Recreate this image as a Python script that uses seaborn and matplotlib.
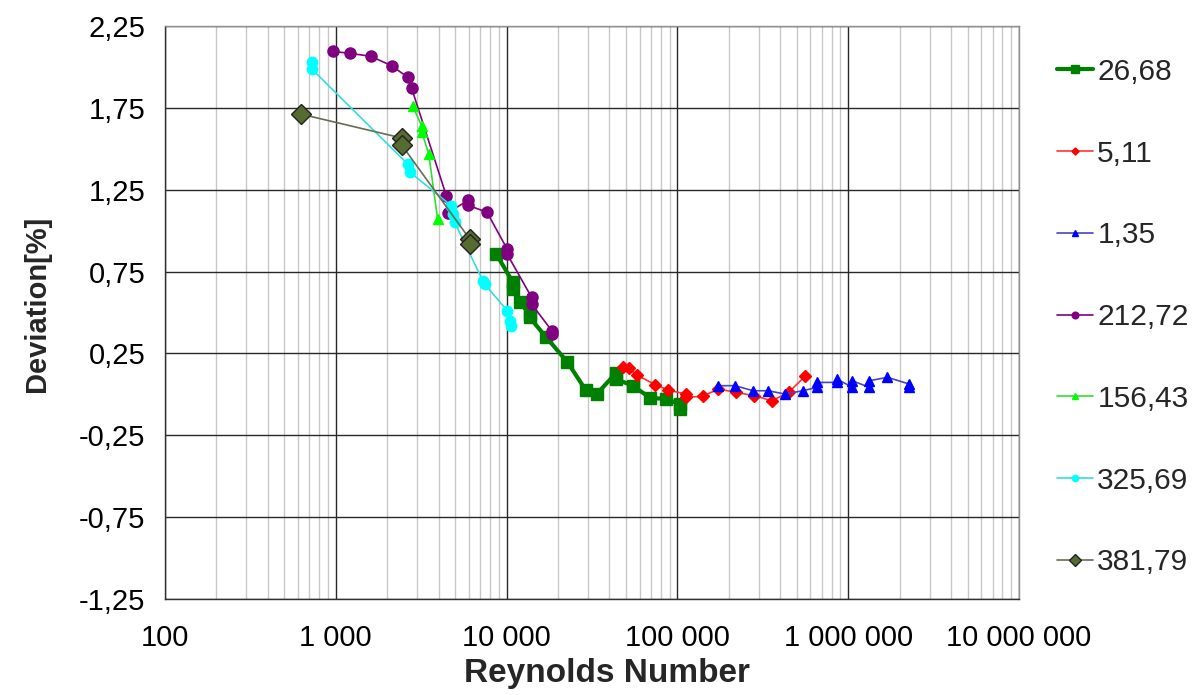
import matplotlib
matplotlib.use("Agg")
import matplotlib.pyplot as plt
import matplotlib.ticker as mticker
import seaborn as sns
import numpy as np

# ---------------- data ----------------
series_labels = ["26,68", "5,11", "1,35", "212,72", "156,43", "325,69", "381,79"]

re_2668 = [8713, 10850, 10850, 11910, 13650, 13650, 17070, 22640, 28970, 33700,
           43700, 43700, 54600, 69500, 85900, 103500, 103500]
dev_2668 = [0.857, 0.686, 0.643, 0.562, 0.491, 0.470, 0.348, 0.199, 0.028, 0.002,
            0.13, 0.094, 0.053, -0.022, -0.028, -0.059, -0.09]

re_511 = [47900, 51900, 58000, 74100, 88500, 112000, 112000, 140500, 174000,
          220000, 282000, 358000, 448000, 558000]
dev_511 = [0.165, 0.159, 0.118, 0.059, 0.026, 0.002, -0.018, -0.012, 0.033,
           0.012, -0.008, -0.039, 0.012, 0.11]

re_135 = [174000, 217000, 278000, 340000, 426000, 541000, 661000, 661000,
          857000, 857000, 1059000, 1059000, 1327000, 1327000, 1698000, 2275000, 2275000]
dev_135 = [0.053, 0.053, 0.022, 0.022, 0.002, 0.022, 0.043, 0.073,
           0.073, 0.094, 0.043, 0.083, 0.043, 0.083, 0.104, 0.063, 0.043]

re_21272 = [959, 1208, 1603, 2124, 2636, 2782, 4437, 4540, 5943, 5943, 7680,
            10070, 10070, 14000, 14000, 18400, 18400]
dev_21272 = [2.095, 2.083, 2.065, 2.007, 1.937, 1.869, 1.213, 1.11, 1.185, 1.155,
             1.112, 0.888, 0.857, 0.593, 0.552, 0.389, 0.369]

re_15643 = [2818, 3186, 3186, 3500, 3945]
dev_15643 = [1.761, 1.639, 1.603, 1.468, 1.071]

re_32569 = [724, 724, 2636, 2710, 4750, 4855, 4965, 7260, 7430, 10090, 10420, 10670]
dev_32569 = [2.030, 1.987, 1.407, 1.358, 1.152, 1.102, 1.05, 0.694, 0.674, 0.511,
             0.45, 0.419]

re_38179 = [624, 2431, 2431, 6080, 6080]
dev_38179 = [1.712, 1.566, 1.523, 0.949, 0.918]

x_tick_values = [100, 1000, 10000, 100000, 1000000, 10000000]
x_tick_labels = ["100", "1 000", "10 000", "100 000", "1 000 000", "10 000 000"]
y_tick_values = [-1.25, -0.75, -0.25, 0.25, 0.75, 1.25, 1.75, 2.25]
y_tick_labels = ["-1,25", "-0,75", "-0,25", "0,25", "0,75", "1,25", "1,75", "2,25"]

# ---------------- style ----------------
sns.set_style("white")
plt.rcParams["font.family"] = ["Liberation Sans", "DejaVu Sans"]

fig = plt.figure(figsize=(11.99, 6.95), dpi=100)
ax = fig.add_axes([165 / 1199, 1 - 599 / 695, (1019 - 165) / 1199, (599 - 26) / 695])

styles = [
    (re_2668, dev_2668, "#008000", "s", 9.0, 3.0, "#008000"),
    (re_511, dev_511, "#FF0000", "D", 6.0, 1.2, "#FF0000"),
    (re_135, dev_135, "#0000FF", "^", 7.5, 1.2, "#0000FF"),
    (re_21272, dev_21272, "#800080", "o", 8.0, 1.2, "#800080"),
    (re_15643, dev_15643, "#00FF00", "^", 7.5, 1.2, "#00FF00"),
    (re_32569, dev_32569, "#00FFFF", "o", 7.5, 1.2, "#00FFFF"),
    (re_38179, dev_38179, "#556B2F", "D", 10.0, 1.2, "#222222"),
]
line_colors = ["#008000", "#FF3333", "#4444CC", "#800080", "#33DD33", "#33DDDD", "#6B6B55"]

for (xs, ys, col, mk, ms, lw, mec), lab, lc in zip(styles, series_labels, line_colors):
    sns.lineplot(x=xs, y=ys, ax=ax, estimator=None, sort=False, color=lc,
                 linewidth=lw, marker=mk, markersize=ms, markerfacecolor=col,
                 markeredgecolor=mec, markeredgewidth=1.0, label=lab, zorder=3)

ax.set_xscale("log")
ax.set_xlim(100, 10000000)
ax.set_ylim(-1.25, 2.25)

ax.xaxis.set_major_locator(mticker.FixedLocator(x_tick_values))
ax.xaxis.set_major_formatter(mticker.FixedFormatter(x_tick_labels))
ax.xaxis.set_minor_locator(mticker.LogLocator(base=10, subs=np.arange(2, 10)))
ax.xaxis.set_minor_formatter(mticker.NullFormatter())
ax.yaxis.set_major_locator(mticker.FixedLocator(y_tick_values))
ax.yaxis.set_major_formatter(mticker.FixedFormatter(y_tick_labels))

ax.grid(which="minor", axis="x", color="#c8c8c8", linewidth=1.0, zorder=0)
ax.grid(which="major", axis="x", color="#282828", linewidth=1.0, zorder=1)
ax.grid(which="major", axis="y", color="#282828", linewidth=1.0, zorder=1)
ax.set_axisbelow(True)

ax.tick_params(axis="both", which="major", direction="out", length=7, width=1,
               color="#303030", labelsize=21, pad=7, labelcolor="black")
ax.tick_params(axis="x", which="minor", length=0)
ax.tick_params(axis="x", pad=11)

for side in ["left", "bottom"]:
    ax.spines[side].set_color("#303030")
    ax.spines[side].set_linewidth(1.0)
for side in ["top", "right"]:
    ax.spines[side].set_color("#909090")
    ax.spines[side].set_linewidth(1.0)

ax.set_xlabel("Reynolds Number", fontsize=24, fontweight="bold", labelpad=4)
ax.set_ylabel("Deviation[%]", fontsize=21, fontweight="bold", labelpad=20)
ax.xaxis.label.set_x(0.517)
ax.yaxis.label.set_y(0.515)

handles, labels = ax.get_legend_handles_labels()
ax.get_legend().remove()
leg = fig.legend(handles, labels, loc="upper left", bbox_to_anchor=(1045 / 1199, 1 - 46 / 695),
                 frameon=False, fontsize=21.5, labelspacing=1.8, handlelength=1.2,
                 handletextpad=0.15, markerscale=0.6, borderaxespad=0)

fig.savefig("out.png", dpi=100)
